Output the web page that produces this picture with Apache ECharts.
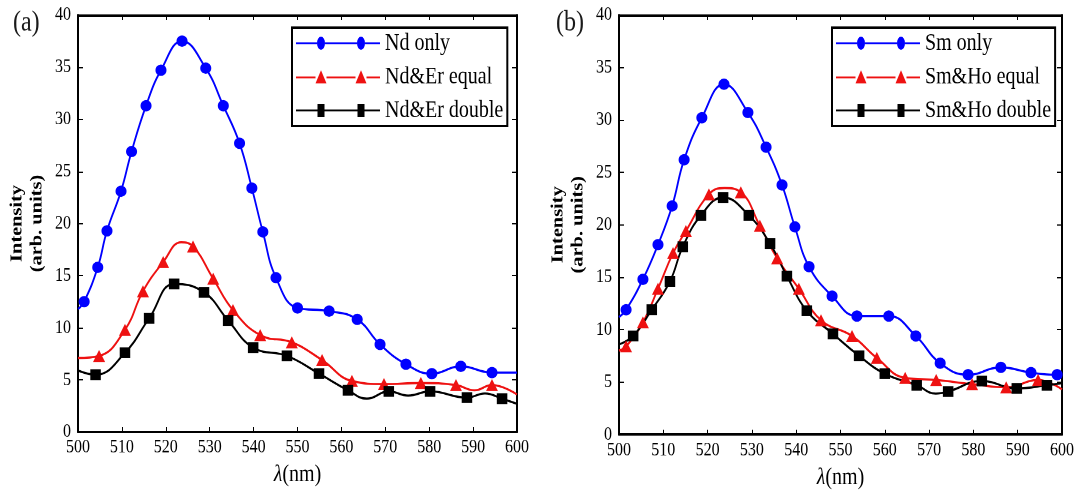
<!DOCTYPE html>
<html>
<head>
<meta charset="utf-8">
<script src="https://cdn.jsdelivr.net/npm/echarts@6/dist/echarts.min.js"></script>
<style>
html{margin:0;padding:0;background:#fff;overflow:hidden;}
body{margin:0;padding:0;background:#fff;width:1080px;height:496px;}
#chart{width:1080px;height:413px;transform:scaleY(1.2);transform-origin:0 0;}
</style>
</head>
<body>
<div id="chart"></div>
<script>
// ---------- data ----------
const xTicks = [500, 510, 520, 530, 540, 550, 560, 570, 580, 590, 600];
const yTicks = [0, 5, 10, 15, 20, 25, 30, 35, 40];

const panelLabels = ['(a)', '(b)'];
const seriesNamesA = ['Nd only', 'Nd&Er equal', 'Nd&Er double'];
const seriesNamesB = ['Sm only', 'Sm&Ho equal', 'Sm&Ho double'];

// Panel (a) - marked points
const ndOnlyMarks = [[501.4,12.5],[504.5,15.8],[506.6,19.3],[509.8,23.1],[512.2,26.9],[515.5,31.3],[518.9,34.7],[523.7,37.5],[529.1,34.9],[533.1,31.3],[536.8,27.7],[539.6,23.4],[542.1,19.2],[545.1,14.8],[550.0,11.9],[557.2,11.6],[563.6,10.8],[568.8,8.4],[574.7,6.5],[580.6,5.6],[587.2,6.3],[594.3,5.7]];
// Panel (a) - curve-only points
const ndOnlyCurve = [[500,11.8],[600,5.7]];

const ndErEqualMarks = [[504.8,7.3],[510.7,9.8],[514.8,13.5],[519.4,16.3],[526.2,17.8],[530.8,14.7],[535.3,11.7],[541.5,9.3],[548.7,8.6],[555.6,6.9],[562.4,4.9],[569.7,4.6],[578.1,4.7],[586.1,4.5],[594.3,4.5]];
const ndErEqualCurve = [[500,7.1],[523.5,18.2],[590.3,4.0],[600,3.6]];

const ndErDoubleMarks = [[504.0,5.5],[510.7,7.6],[516.2,10.9],[521.9,14.2],[528.7,13.4],[534.2,10.7],[539.9,8.1],[547.6,7.3],[554.9,5.6],[561.5,4.0],[570.8,3.9],[580.2,3.9],[588.6,3.3],[596.6,3.2]];
const ndErDoubleCurve = [[500,5.9],[565.8,3.2],[575.2,3.5],[592.7,3.7],[600,2.7]];

// Panel (b)
const smOnlyMarks = [[501.6,11.9],[505.4,14.8],[508.8,18.1],[512.0,21.8],[514.7,26.2],[518.7,30.2],[523.7,33.4],[529.1,30.7],[533.2,27.4],[536.8,23.8],[539.7,19.8],[542.9,16.0],[548.1,13.2],[553.7,11.3],[560.9,11.3],[567.0,9.4],[572.5,6.8],[578.8,5.7],[586.2,6.4],[593.0,5.9],[598.9,5.7]];
const smOnlyCurve = [[500,11.2],[600,5.7]];

const smHoEqualMarks = [[501.6,8.4],[505.4,10.7],[508.8,13.9],[512.2,17.3],[515.1,19.4],[520.3,22.9],[527.5,23.1],[531.8,19.9],[535.7,16.8],[540.6,13.9],[545.6,10.9],[552.6,9.4],[558.2,7.3],[564.6,5.4],[571.6,5.2],[579.7,4.8],[587.4,4.5],[594.6,5.2]];
const smHoEqualCurve = [[500,8.0],[523.8,23.5],[600,4.3]];

const smHoDoubleMarks = [[503.2,9.4],[507.4,11.9],[511.5,14.6],[514.4,17.9],[518.5,20.9],[523.5,22.6],[529.3,20.9],[534.1,18.2],[537.9,15.1],[542.4,11.8],[548.3,9.6],[554.2,7.5],[560.0,5.8],[567.2,4.7],[574.3,4.1],[581.9,5.1],[589.8,4.4],[596.6,4.7]];
const smHoDoubleCurve = [[500,8.6],[571.5,3.9],[600,4.9]];

// ---------- build ----------
const SERIF = 'Liberation Serif';
const BLUE = '#0000ff', RED = '#ee1111', BLACK = '#000000';

function merge(marks, curve) {
  const pts = marks.map(p => ({ value: p }))
    .concat(curve.map(p => ({ value: p, symbol: 'none' })));
  pts.sort((a, b) => a.value[0] - b.value[0]);
  return pts;
}

const iconCircle = 'path://M0 4.7H21V6.3H0Z M29 4.7H61V6.3H29Z M69 4.7H84V6.3H69Z M21 5.5A4 5.5 0 1 1 29 5.5A4 5.5 0 1 1 21 5.5Z M61 5.5A4 5.5 0 1 1 69 5.5A4 5.5 0 1 1 61 5.5Z';
const iconTri = 'path://M0 5.2H19.5V6.8H0Z M30.5 5.2H59.5V6.8H30.5Z M70.5 5.2H84V6.8H70.5Z M19.5 11L25 0L30.5 11Z M59.5 11L65 0L70.5 11Z';
const iconSq = 'path://M0 4.7H21.5V6.3H0Z M28.5 4.7H61.5V6.3H28.5Z M68.5 4.7H84V6.3H68.5Z M21.5 0H28.5V11H21.5Z M61.5 0H68.5V11H61.5Z';

function mkSeries(name, data, color, symbol, size, idx) {
  return {
    name: name, type: 'line', xAxisIndex: idx, yAxisIndex: idx,
    data: data, smooth: 0.45, symbol: symbol, symbolSize: size,
    showAllSymbol: true,
    lineStyle: { color: color, width: 1.8 },
    itemStyle: { color: color },
    emphasis: { disabled: true }, animation: false
  };
}

function mkX(grid, bottom) {
  return {
    type: 'value', gridIndex: grid, min: xTicks[0], max: xTicks[xTicks.length - 1],
    interval: xTicks[1] - xTicks[0], position: bottom ? 'bottom' : 'top',
    axisLine: { show: true, onZero: false, lineStyle: { color: '#000', width: 2 } },
    axisTick: { show: true, inside: true, length: 4, lineStyle: { color: '#000', width: 1 } },
    axisLabel: { show: bottom, color: '#000', fontFamily: SERIF, fontSize: 16, margin: 5 },
    splitLine: { show: false },
    name: bottom ? '{i|λ}(nm)' : '', nameLocation: 'middle', nameGap: 24,
    nameTextStyle: { color: '#000', fontFamily: SERIF, fontSize: 20,
      rich: { i: { fontStyle: 'italic', fontFamily: SERIF, fontSize: 20, color: '#000' } } }
  };
}
function mkY(grid, left) {
  return {
    type: 'value', gridIndex: grid, min: yTicks[0], max: yTicks[yTicks.length - 1],
    interval: yTicks[1] - yTicks[0], position: left ? 'left' : 'right',
    axisLine: { show: true, onZero: false, lineStyle: { color: '#000', width: 2 } },
    axisTick: { show: true, inside: true, length: 5, lineStyle: { color: '#000', width: 1 } },
    axisLabel: { show: left, color: '#000', fontFamily: SERIF, fontSize: 16, margin: 7 },
    splitLine: { show: false },
    name: left ? 'Intensity\n(arb. units)' : '', nameLocation: 'middle', nameGap: 31,
    nameTextStyle: { color: '#000', fontFamily: SERIF, fontSize: 17, fontWeight: 'bold', lineHeight: 20 }
  };
}
function mkLegend(names, left) {
  return {
    orient: 'vertical', left: left, top: 23,
    data: [
      { name: names[0], icon: iconCircle },
      { name: names[1], icon: iconTri },
      { name: names[2], icon: iconSq }
    ],
    itemWidth: 84, itemHeight: 11, itemGap: 8, itemTextGap: 4,
    padding: [3, 4, 3, 4],
    backgroundColor: '#fff', borderColor: '#000', borderWidth: 2, borderRadius: 0,
    textStyle: { color: '#000', fontFamily: SERIF, fontSize: 20, lineHeight: 20 },
    selectedMode: false
  };
}

const chart = echarts.init(document.getElementById('chart'), null, { renderer: 'canvas', devicePixelRatio: 2 });
chart.setOption({
  animation: false,
  backgroundColor: '#fff',
  title: [
    { text: panelLabels[0], left: 8, top: 2, textStyle: { fontFamily: SERIF, fontSize: 24, fontWeight: 'normal', color: '#1a1a1a' } },
    { text: panelLabels[1], left: 551, top: 2, textStyle: { fontFamily: SERIF, fontSize: 24, fontWeight: 'normal', color: '#1a1a1a' } }
  ],
  grid: [
    { left: 78, top: 12.5, width: 439, height: 347.5 },
    { left: 619, top: 12.5, width: 443, height: 351.7 }
  ],
  xAxis: [mkX(0, true), mkX(1, true), mkX(0, false), mkX(1, false)],
  yAxis: [mkY(0, true), mkY(1, true), mkY(0, false), mkY(1, false)],
  legend: [mkLegend(seriesNamesA, 292), mkLegend(seriesNamesB, 832)],
  series: [
    mkSeries(seriesNamesA[0], merge(ndOnlyMarks, ndOnlyCurve), BLUE, 'circle', [11, 9.5], 0),
    mkSeries(seriesNamesA[1], merge(ndErEqualMarks, ndErEqualCurve), RED, 'triangle', [12, 10], 0),
    mkSeries(seriesNamesA[2], merge(ndErDoubleMarks, ndErDoubleCurve), BLACK, 'rect', [10.5, 9], 0),
    mkSeries(seriesNamesB[0], merge(smOnlyMarks, smOnlyCurve), BLUE, 'circle', [11, 9.5], 1),
    mkSeries(seriesNamesB[1], merge(smHoEqualMarks, smHoEqualCurve), RED, 'triangle', [12, 10], 1),
    mkSeries(seriesNamesB[2], merge(smHoDoubleMarks, smHoDoubleCurve), BLACK, 'rect', [10.5, 9], 1)
  ]
});
</script>
</body>
</html>
